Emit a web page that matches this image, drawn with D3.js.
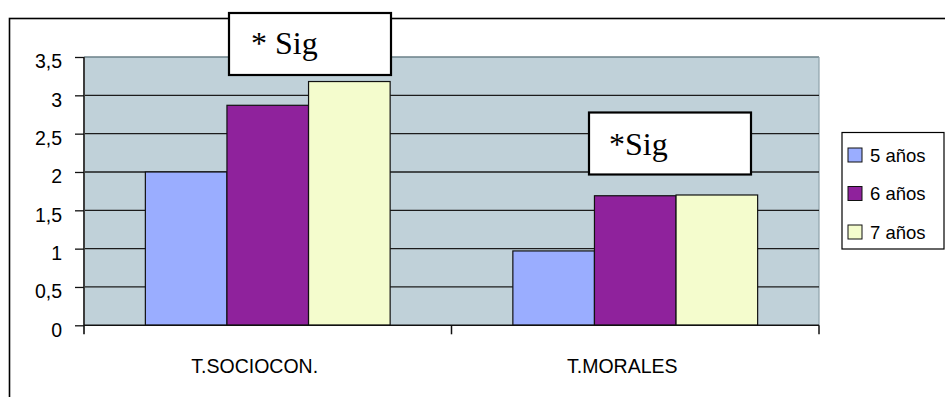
<!DOCTYPE html>
<html>
<head>
<meta charset="utf-8">
<script src="https://cdn.jsdelivr.net/npm/d3@7"></script>
<style>
  html, body { margin: 0; padding: 0; background: #ffffff; }
  svg { display: block; }
</style>
</head>
<body>
<svg id="chart" width="945" height="397"></svg>
<script>
// Puntuaciones medias por prueba y grupo de edad
const categories = ["T.SOCIOCON.", "T.MORALES"];
const seriesNames = ["5 años", "6 años", "7 años"];
const values5 = [2.0, 0.97];
const values6 = [2.87, 1.69];
const values7 = [3.18, 1.70];
const seriesColors = ["#9aadff", "#8f229c", "#f4fccd"];
const yTickValues = [0, 0.5, 1, 1.5, 2, 2.5, 3, 3.5];
const yTickLabels = ["0", "0,5", "1", "1,5", "2", "2,5", "3", "3,5"];
const notes = [
  { category: "T.SOCIOCON.", text: "* Sig" },
  { category: "T.MORALES", text: "*Sig" }
];

const seriesValues = [values5, values6, values7];
const rows = categories.map((c, i) => ({
  category: c,
  bars: seriesNames.map((s, j) => ({ series: s, value: seriesValues[j][i], color: seriesColors[j] }))
}));

const svg = d3.select("#chart");
const plot = { left: 84, right: 819, top: 57, bottom: 325.3 };
const sans = "Liberation Sans, Arial, sans-serif";

// Outer chart frame (continues past the right and bottom edges)
svg.append("rect")
  .attr("x", 9.5).attr("y", 18.5)
  .attr("width", 960).attr("height", 420)
  .attr("fill", "#ffffff").attr("stroke", "#000").attr("stroke-width", 1.6);

const y = d3.scaleLinear().domain([0, 3.5]).range([plot.bottom, plot.top]);
const x = d3.scaleBand().domain(categories).range([plot.left, plot.right]).padding(0);
const xInner = d3.scaleBand().domain(seriesNames).range([0, x.bandwidth()])
  .paddingInner(0).paddingOuter(0.752);

// Plot background
svg.append("rect")
  .attr("x", plot.left).attr("y", plot.top)
  .attr("width", plot.right - plot.left).attr("height", plot.bottom - plot.top)
  .attr("fill", "#c0d1d9");

// Plot top and right borders
svg.append("line")
  .attr("x1", plot.left).attr("x2", plot.right)
  .attr("y1", plot.top).attr("y2", plot.top)
  .attr("stroke", "#6b8188").attr("stroke-width", 1.5);
svg.append("line")
  .attr("x1", plot.right).attr("x2", plot.right)
  .attr("y1", plot.top).attr("y2", plot.bottom)
  .attr("stroke", "#8ea2ab").attr("stroke-width", 1.2);

// Horizontal gridlines
svg.append("g").selectAll("line")
  .data(yTickValues.filter(v => v > 0 && v < 3.5))
  .join("line")
  .attr("x1", plot.left).attr("x2", plot.right)
  .attr("y1", d => y(d)).attr("y2", d => y(d))
  .attr("stroke", "#1c1c1c").attr("stroke-width", 1.3);

// Bars
const groups = svg.append("g").selectAll("g")
  .data(rows).join("g")
  .attr("transform", d => `translate(${x(d.category)},0)`);
groups.selectAll("rect")
  .data(d => d.bars).join("rect")
  .attr("x", d => xInner(d.series))
  .attr("y", d => y(d.value))
  .attr("width", xInner.bandwidth())
  .attr("height", d => y(0) - y(d.value))
  .attr("fill", d => d.color)
  .attr("stroke", "#111").attr("stroke-width", 1.2);

// Y axis
const yAxis = svg.append("g")
  .attr("transform", `translate(${plot.left},0)`)
  .call(d3.axisLeft(y).tickValues(yTickValues)
    .tickFormat((d, i) => yTickLabels[i])
    .tickSize(9).tickPadding(13));
yAxis.select(".domain").attr("stroke", "#3d3d3d").attr("stroke-width", 2)
  .attr("d", `M0,${plot.top}V${plot.bottom + 9}`);
yAxis.selectAll(".tick line").attr("stroke", "#111").attr("stroke-width", 1.3);
yAxis.selectAll(".tick text")
  .attr("dy", "0.56em")
  .attr("fill", "#000")
  .style("font-family", sans)
  .style("font-size", "19.5px");

// X axis baseline and category ticks
svg.append("line")
  .attr("x1", plot.left).attr("x2", plot.right)
  .attr("y1", y(0)).attr("y2", y(0))
  .attr("stroke", "#111").attr("stroke-width", 1.5);
const xTickPositions = categories.map(c => x(c)).concat([x(categories[categories.length - 1]) + x.bandwidth()]);
svg.append("g").selectAll("line")
  .data(xTickPositions.slice(1)).join("line")
  .attr("x1", d => d).attr("x2", d => d)
  .attr("y1", y(0)).attr("y2", y(0) + 9)
  .attr("stroke", "#111").attr("stroke-width", 1.5);

// Category labels
svg.append("g").selectAll("text")
  .data(categories).join("text")
  .attr("x", d => x(d) + x.bandwidth() / 2 - 13)
  .attr("y", 373)
  .attr("text-anchor", "middle")
  .style("font-family", sans)
  .style("font-size", "19.5px")
  .attr("fill", "#000")
  .text(d => d);

// Significance notes
const noteBoxes = [
  { x: 229, y: 13, w: 162, h: 62, tx: 251, ty: 54 },
  { x: 589, y: 112.5, w: 162, h: 62, tx: 609, ty: 155 }
];
notes.forEach((n, i) => {
  const b = noteBoxes[i];
  svg.append("rect")
    .attr("x", b.x).attr("y", b.y).attr("width", b.w).attr("height", b.h)
    .attr("fill", "#ffffff").attr("stroke", "#000").attr("stroke-width", 2.2);
  svg.append("text")
    .attr("x", b.tx).attr("y", b.ty)
    .style("font-family", "Liberation Serif, 'Times New Roman', serif")
    .style("font-size", "32px")
    .attr("fill", "#000")
    .text(n.text);
});

// Legend
const legend = svg.append("g");
legend.append("rect")
  .attr("x", 842).attr("y", 132.5).attr("width", 102).attr("height", 116.5)
  .attr("fill", "#ffffff").attr("stroke", "#000").attr("stroke-width", 1.2);
const items = legend.selectAll("g.item")
  .data(seriesNames).join("g")
  .attr("class", "item")
  .attr("transform", (d, i) => `translate(848,${148 + i * 38.5})`);
items.append("rect")
  .attr("width", 14).attr("height", 14)
  .attr("fill", (d, i) => seriesColors[i])
  .attr("stroke", "#111").attr("stroke-width", 1);
items.append("text")
  .attr("x", 22).attr("y", 13.5)
  .style("font-family", sans)
  .style("font-size", "18.5px")
  .attr("fill", "#000")
  .text(d => d);
</script>
</body>
</html>
